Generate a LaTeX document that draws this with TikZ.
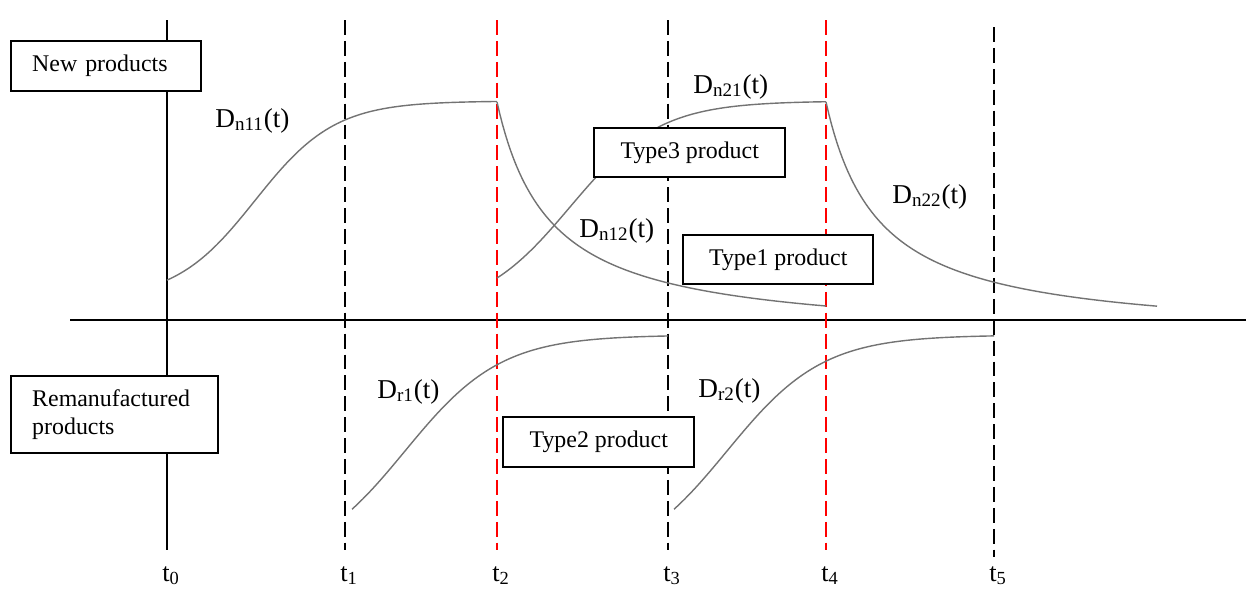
\documentclass[tikz,border=0pt]{standalone}
\usepackage{fontspec}
\setmainfont{Liberation Serif}
\begin{document}
\begin{tikzpicture}[x=0.02cm,y=-0.02cm,
  axisline/.style={line width=1.1pt,black},
  blackdash/.style={line width=1.1pt,black,dash pattern=on 8.5pt off 3.4pt},
  reddash/.style={line width=1.1pt,red,dash pattern=on 8.5pt off 3.4pt},
  curve/.style={line width=0.8pt,black!55},
  boxc/.style={draw,line width=1.4pt,fill=white,anchor=north west,inner sep=0pt,
    font=\fontsize{13.6}{15.9}\selectfont,align=center},
  boxl/.style={draw,line width=1.4pt,fill=white,anchor=north west,inner ysep=0pt,inner xsep=0.42cm,
    font=\fontsize{13.6}{15.9}\selectfont,align=left},
  dlabel/.style={anchor=base west,inner sep=0pt,font=\fontsize{15.5}{18}\selectfont},
  tlabel/.style={anchor=base west,inner sep=0pt,font=\fontsize{15}{18}\selectfont}]
\useasboundingbox (0,0) rectangle (1246,592);
% coordinates
\coordinate (axL) at (70,320);
\coordinate (axR) at (1246,320);
\coordinate (t0a) at (167,20);  \coordinate (t0b) at (167,550);
\coordinate (t1a) at (345,20);  \coordinate (t1b) at (345,550);
\coordinate (t2a) at (497,20);  \coordinate (t2b) at (497,550);
\coordinate (t3a) at (668,20);  \coordinate (t3b) at (668,550);
\coordinate (t4a) at (826,20);  \coordinate (t4b) at (826,550);
\coordinate (t5a) at (994,27);  \coordinate (t5b) at (994,557);
% axes and time lines
\draw[axisline] (axL) -- (axR);
\draw[axisline] (t0a) -- (t0b);
\draw[blackdash] (t1a) -- (t1b);
\draw[reddash] (t2a) -- (t2b);
\draw[blackdash] (t3a) -- (t3b);
\draw[reddash] (t4a) -- (t4b);
\draw[blackdash] (t5a) -- (t5b);
% curves
\draw[curve] plot[domain=167:497,samples=120] (\x,{101+199/(1+exp((\x-255)/40))});
\draw[curve] plot[domain=497:826,samples=120] (\x,{102+(\x-497)/(\x-497+52.6)*236.6});
\draw[curve] plot[domain=497:826,samples=120] (\x,{101+212/(1+exp((\x-570)/45))});
\draw[curve] plot[domain=826:1157,samples=120] (\x,{102+(\x-826)/(\x-826+52.6)*236.6});
\draw[curve] plot[domain=352:668,samples=120] (\x,{335+232/(1+exp((\x-405)/48))});
\draw[curve] plot[domain=674:994,samples=120] (\x,{335+232/(1+exp((\x-727)/48))});
\coordinate (r2end) at (994,335);
\coordinate (r2ax) at (994,320);
\draw[line width=1.1pt] (r2end) -- (r2ax);
% boxes
\node[boxl,minimum height=1.0cm,text width=2.96cm] (newp) at (10,40) {New products};
\node[boxl,minimum height=1.54cm,text width=3.30cm] (remp) at (10,375) {Remanufactured\\products};
\node[boxc,minimum width=3.82cm,minimum height=0.98cm] (type3) at (593,127) {Type3 product};
\node[boxc,minimum width=3.80cm,minimum height=0.98cm] (type1) at (682,234) {Type1 product};
\node[boxc,minimum width=3.82cm,minimum height=1.0cm] (type2) at (502,416) {Type2 product};
% curve labels
\node[dlabel] (ln11) at (215,127) {D\textsubscript{n11}(t)};
\node[dlabel] (ln21) at (693,93) {D\textsubscript{n21}(t)};
\node[dlabel] (ln12) at (579,237) {D\textsubscript{n12}(t)};
\node[dlabel] (ln22) at (892,203) {D\textsubscript{n22}(t)};
\node[dlabel] (lr1) at (377,398) {D\textsubscript{r1}(t)};
\node[dlabel] (lr2) at (698,397) {D\textsubscript{r2}(t)};
% time labels
\node[tlabel] (lt0) at (162,581) {t\textsubscript{0}};
\node[tlabel] (lt1) at (340,581) {t\textsubscript{1}};
\node[tlabel] (lt2) at (492,581) {t\textsubscript{2}};
\node[tlabel] (lt3) at (663,581) {t\textsubscript{3}};
\node[tlabel] (lt4) at (821,581) {t\textsubscript{4}};
\node[tlabel] (lt5) at (989,581) {t\textsubscript{5}};
\end{tikzpicture}
\end{document}
